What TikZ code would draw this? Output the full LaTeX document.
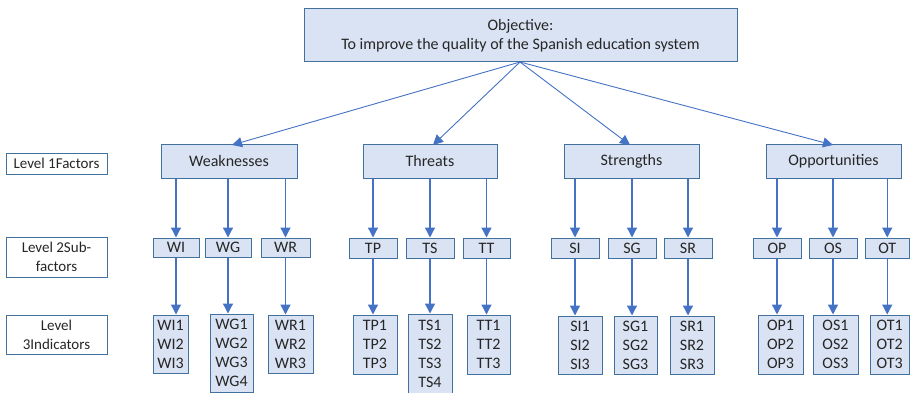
\documentclass[tikz,border=0pt]{standalone}
\usepackage{fontspec}
\setmainfont{Carlito}
\usetikzlibrary{arrows.meta}
\definecolor{bfill}{HTML}{DAE3F3}
\definecolor{bdraw}{HTML}{41719C}
\definecolor{arr}{HTML}{4472C4}
\definecolor{txt}{HTML}{262626}
\tikzset{
  boxbase/.style={draw=bdraw, line width=1pt, inner sep=0pt, align=center, text=txt,
    font=\fontsize{16}{19}\selectfont},
  bluebox/.style={boxbase, fill=bfill},
  lvlbox/.style={boxbase, fill=white, font=\fontsize{15}{19}\selectfont},
  conn/.style={draw=arr, line width=1.3pt, -{Triangle[length=10pt,width=10pt]}},
  topconn/.style={draw=arr, line width=0.9pt, -{Triangle[length=10pt,width=10pt]}},
}
% \bx{style}{name}{x1}{y1}{x2}{y2}{text}
\newcommand{\bx}[7]{%
  \pgfmathsetmacro{\cxx}{(#3+#5)/2}%
  \pgfmathsetmacro{\cyy}{(#4+#6)/2}%
  \pgfmathsetmacro{\ww}{#5-#3}%
  \pgfmathsetmacro{\hh}{#6-#4}%
  \node[#1, minimum width=\ww pt, minimum height=\hh pt] (#2) at (\cxx,\cyy) {#7};}
\begin{document}
\begin{tikzpicture}[x=1pt,y=-1pt]
\useasboundingbox (0,0) rectangle (910,393);
% objective
\bx{bluebox}{obj}{304}{9}{737}{62}{Objective:\\To improve the quality of the Spanish education system}
% level labels
\bx{lvlbox}{L1}{6}{153}{107}{174}{Level 1Factors}
\bx{lvlbox}{L2}{6}{237}{107}{277}{Level 2Sub-\\factors}
\bx{lvlbox}{L3}{6}{315}{107}{354}{Level\\3Indicators}
% level 1
\bx{bluebox}{W}{161}{145}{297}{178}{Weaknesses}
\bx{bluebox}{T}{363}{145}{497}{178}{Threats}
\bx{bluebox}{S}{564}{145}{699}{178}{Strengths}
\bx{bluebox}{O}{766}{145}{901}{178}{Opportunities}
% level 2
\bx{bluebox}{WI}{153}{238}{199}{257}{WI}
\bx{bluebox}{WG}{205}{238}{251}{257}{WG}
\bx{bluebox}{WR}{261}{238}{310}{257}{WR}
\bx{bluebox}{TP}{349}{238}{397}{258}{TP}
\bx{bluebox}{TS}{406}{238}{454}{258}{TS}
\bx{bluebox}{TT}{463}{238}{510}{258}{TT}
\bx{bluebox}{SI}{551}{238}{599}{258}{SI}
\bx{bluebox}{SG}{608}{238}{656}{258}{SG}
\bx{bluebox}{SR}{664}{238}{712}{258}{SR}
\bx{bluebox}{OP}{753}{238}{801}{258}{OP}
\bx{bluebox}{OS}{809}{238}{857}{258}{OS}
\bx{bluebox}{OT}{865}{238}{909.5}{258}{OT}
% level 3
\bx{bluebox}{WI3}{153}{315}{188}{373}{WI1\\WI2\\WI3}
\bx{bluebox}{WG3}{210}{314}{253}{392}{WG1\\WG2\\WG3\\WG4}
\bx{bluebox}{WR3}{268}{315}{313}{373}{WR1\\WR2\\WR3}
\bx{bluebox}{TP3}{353}{315}{397}{374}{TP1\\TP2\\TP3}
\bx{bluebox}{TS3}{408}{314}{452}{393}{TS1\\TS2\\TS3\\TS4}
\bx{bluebox}{TT3}{467}{315}{510}{374}{TT1\\TT2\\TT3}
\bx{bluebox}{SI3}{558}{316}{602}{374}{SI1\\SI2\\SI3}
\bx{bluebox}{SG3}{614}{316}{657}{374}{SG1\\SG2\\SG3}
\bx{bluebox}{SR3}{670}{316}{714}{374}{SR1\\SR2\\SR3}
\bx{bluebox}{OP3}{758}{315}{803}{374}{OP1\\OP2\\OP3}
\bx{bluebox}{OS3}{813}{315}{858}{374}{OS1\\OS2\\OS3}
\bx{bluebox}{OT3}{870}{315}{909.5}{374}{OT1\\OT2\\OT3}
% objective arrows
\coordinate (objs) at (520,62);
\coordinate (Wt) at (232,145);
\coordinate (Tt) at (433,145);
\coordinate (St) at (630,145);
\coordinate (Ot) at (833,145);
\draw[topconn] (objs) -- (Wt);
\draw[topconn] (objs) -- (Tt);
\draw[topconn] (objs) -- (St);
\draw[topconn] (objs) -- (Ot);
% level 1 -> level 2
\foreach \p/\c in {W/WI,W/WG,W/WR,T/TP,T/TS,T/TT,S/SI,S/SG,S/SR,O/OP,O/OS,O/OT}{
  \draw[conn] (\c.north |- \p.south) -- (\c.north);
}
% level 2 -> level 3
\foreach \c in {WI,WG,WR,TP,TS,TT,SI,SG,SR,OP,OS,OT}{
  \draw[conn] (\c.south) -- (\c.south |- \c3.north);
}
\end{tikzpicture}
\end{document}
